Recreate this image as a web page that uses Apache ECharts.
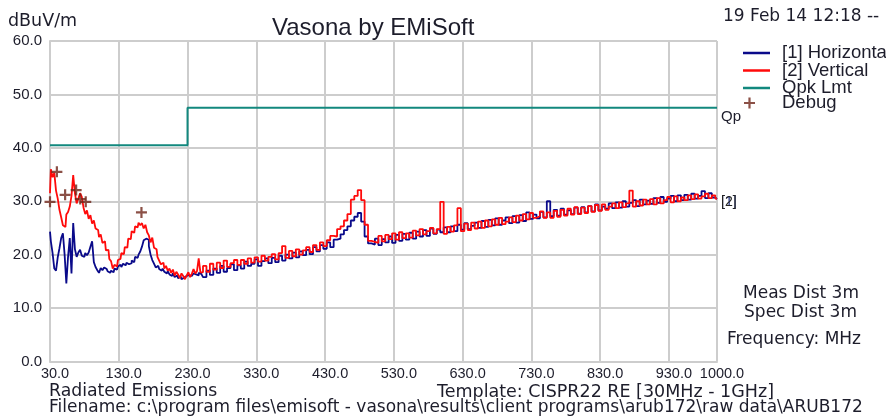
<!DOCTYPE html>
<html><head><meta charset="utf-8">
<script src="https://cdn.jsdelivr.net/npm/echarts@6/dist/echarts.min.js"></script>
<style>html,body{margin:0;padding:0;background:#fff}#c{width:886px;height:417px}</style>
</head><body><div id="c"></div>
<script>
// ---------- data ----------
const titleText = 'Vasona by EMiSoft';
const unitText = 'dBuV/m';
const dateText = '19 Feb 14 12:18 --';
const xTicks = [30, 130, 230, 330, 430, 530, 630, 730, 830, 930, 1000];
const yTicks = [0, 10, 20, 30, 40, 50, 60];

const freqLow = [30,32.5,35,37.5,40,42.5,45,47.5,50,52.5,
  55,57.5,60,62.5,65,67.5,70,72.5,75,77.5,
  80,82.5,85,87.5,90,92.5,95,97.5,100,102.5,
  105,107.5,110,112.5,115,117.5,120,122.5,125,127.5,
  130,132.5,135,137.5,140,142.5,145,147.5,150,152.5,
  155,157.5,160,162.5,165,167.5,170,172.5,175,177.5,
  180,182.5,185,187.5,190,192.5,195,197.5,200,202.5,
  205,207.5,210,212.5,215,217.5,220,222.5,225,227.5,
  230,232.5,235,237.5,240,242.5,245,247.5,250];
const freqHigh = [255,260,265,270,275,280,285,290,295,300,
  305,310,315,320,325,330,335,340,345,350,
  355,360,365,370,375,380,385,390,395,400,
  405,410,415,420,425,430,435,440,445,450,
  455,460,465,470,475,480,485,490,495,500,
  505,510,515,520,525,530,535,540,545,550,
  555,560,565,570,575,580,585,590,595,600,
  605,610,615,620,625,630,635,640,645,650,
  655,660,665,670,675,680,685,690,695,700,
  705,710,715,720,725,730,735,740,745,750,
  755,760,765,770,775,780,785,790,795,800,
  805,810,815,820,825,830,835,840,845,850,
  855,860,865,870,875,880,885,890,895,900,
  905,910,915,920,925,930,935,940,945,950,
  955,960,965,970,975,980,985,990,995,1000];

const horizLow = [24.3,22.5,20.3,17.4,17.0,19.5,21.2,23.1,24.0,20.0,
  14.6,19.6,23.1,16.5,25.9,21.0,19.6,20.4,20.9,19.8,
  19.6,20.3,19.9,20.4,21.5,22.5,18.6,17.7,17.1,16.6,
  17.5,17.1,17.6,17.3,16.9,16.6,17.0,16.7,17.4,17.2,
  17.8,18.1,17.7,18.3,18.0,18.5,18.2,18.4,18.9,18.6,
  19.6,19.4,20.0,20.6,21.5,22.7,23.0,22.8,21.6,20.0,
  19.0,18.3,17.6,17.9,17.3,17.0,17.4,16.8,16.5,16.9,
  16.3,16.0,16.5,15.8,16.1,15.6,15.9,15.4,15.7,16.0,
  15.7,16.2,16.0,15.8,16.5,16.3,16.1,16.6,16.4];
const horizHigh = [15.8,17.0,16.2,17.4,16.6,17.9,16.8,17.5,18.2,17.1,
  18.0,17.4,18.7,17.9,18.3,19.1,17.9,18.8,19.3,18.4,
  19.4,18.6,19.8,18.9,20.0,19.3,20.4,19.5,20.6,19.9,
  20.9,20.1,21.4,20.6,21.8,21.1,22.3,21.4,22.8,23.0,
  23.8,24.6,25.3,26.4,27.1,27.8,26.2,23.4,22.1,21.9,
  23.0,21.8,22.9,22.3,23.4,22.2,23.7,22.6,23.9,22.8,
  24.1,23.0,24.3,23.4,24.6,23.5,24.9,23.9,24.7,24.2,
  25.1,24.2,25.3,24.4,25.6,24.7,25.9,24.8,25.4,26.0,
  25.0,26.3,25.2,26.5,25.5,26.8,25.6,26.4,27.0,25.9,
  27.2,26.0,27.4,26.3,27.9,26.7,27.5,26.8,28.0,27.0,
  30.0,27.2,28.4,27.3,28.6,27.5,28.3,27.6,28.8,27.7,
  28.9,27.9,29.1,28.1,29.4,28.3,29.0,28.6,29.6,28.7,
  29.8,28.8,30.0,29.0,29.7,30.2,29.1,30.3,29.4,30.1,
  29.5,30.6,29.7,30.8,29.9,30.5,31.0,30.0,31.1,30.2,
  31.2,30.3,31.4,30.5,31.0,31.9,30.6,31.5,30.7,30.4];

const vertLow = [31.5,36.0,34.5,35.3,32.0,30.5,28.4,27.0,25.5,25.2,
  27.5,28.0,29.0,31.0,34.9,31.5,29.6,30.5,31.5,30.8,
  28.8,27.6,28.3,26.7,27.4,25.8,26.4,24.9,24.6,23.3,
  23.8,22.2,22.5,20.8,20.9,19.2,18.8,17.4,18.1,17.8,
  19.0,19.2,20.3,20.1,21.4,21.3,23.0,22.9,24.4,24.1,
  25.3,25.1,26.0,25.5,25.9,24.9,25.6,24.2,23.6,22.3,
  23.2,21.3,21.0,19.6,18.9,18.2,18.5,17.4,17.9,17.0,
  17.4,16.6,17.2,16.1,16.8,16.3,15.6,16.5,16.0,15.4,
  16.1,16.7,15.8,16.4,17.3,16.5,16.9,19.3,16.7];
const vertHigh = [17.9,16.8,18.3,17.2,18.5,17.5,18.9,17.7,18.4,19.0,
  18.1,19.0,18.3,19.3,18.5,19.5,18.7,19.8,18.9,19.6,
  20.1,19.1,20.3,21.6,19.4,20.7,19.7,21.0,20.0,20.8,
  21.4,20.5,21.8,20.9,22.3,21.6,22.7,23.5,23.4,24.8,
  25.3,26.4,27.6,30.3,31.0,32.1,30.2,25.6,22.6,22.4,
  22.2,23.5,22.5,23.7,22.9,24.0,22.8,24.2,23.1,24.0,
  23.2,24.5,23.6,24.8,23.8,24.4,25.0,24.0,24.8,29.9,
  23.9,25.2,24.3,25.5,28.7,24.4,25.8,24.6,26.0,24.9,
  26.2,25.0,26.4,25.3,26.6,25.6,26.9,25.7,26.2,27.0,
  26.1,27.3,26.4,27.6,26.6,27.8,26.9,27.2,28.1,26.9,
  27.9,26.9,28.2,27.1,28.4,27.3,28.6,27.5,28.9,27.6,
  28.8,27.8,29.1,28.0,29.3,28.2,29.4,28.4,29.0,29.6,
  28.7,29.8,28.9,29.6,32.0,29.0,30.0,29.2,30.3,29.4,
  30.4,29.4,30.6,29.6,30.2,30.8,29.8,30.9,30.0,30.7,
  30.2,31.1,30.4,31.3,30.5,30.9,31.4,30.6,31.1,30.5];

const limitFreq = [30, 230, 230, 1000];
const limitLevel = [40.5, 40.5, 47.5, 47.5];

const debugFreq = [30, 40, 52, 68, 74, 82, 163];
const debugLevel = [29.9, 35.5, 31.2, 32.1, 30.4, 29.9, 27.9];

const seriesNames = ['[1] Horizontal', '[2] Vertical', 'Qpk Lmt', 'Debug'];
const bottomLeft = 'Radiated Emissions';
const bottomTemplate = 'Template: CISPR22 RE [30MHz - 1GHz]';
const bottomFile = 'Filename: c:\\program files\\emisoft - vasona\\results\\client programs\\arub172\\raw data\\ARUB172 ';
const sideTexts = ['Meas Dist 3m', 'Spec Dist 3m', 'Frequency: MHz'];

// ---------- build ----------
function pairs(xs, ys) { return xs.map((x, i) => [x, ys[i]]); }
const freqAll = freqLow.concat(freqHigh);
const horizAll = horizLow.concat(horizHigh);
const vertAll = vertLow.concat(vertHigh);
if (freqAll.length !== horizAll.length || freqAll.length !== vertAll.length) console.warn('length mismatch', freqAll.length, horizAll.length, vertAll.length);

const SANS = '"Liberation Sans", Arial, sans-serif';
const WIDE = '"DejaVu Sans", sans-serif';
const TXT = '#1d1d2b';
const GRID = '#cdcdcd';
const NAVY = '#0a0a8a';
const RED = '#ff0a0a';
const TEAL = '#12887e';
const PLUS = 'path://M4,0H6V10H4Z M0,4H10V6H0Z';

function txt(x, y, text, align, size) {
  return { type: 'text', x: x, y: y, silent: true,
    style: { text: text, align: align, verticalAlign: 'middle', font: (size || 17) + 'px ' + WIDE, fill: TXT } };
}

const chart = echarts.init(document.getElementById('c'), null, { renderer: 'canvas' });
chart.setOption({
  animation: false,
  backgroundColor: '#ffffff',
  title: { text: titleText, left: 272, top: 16, padding: 0,
    textStyle: { fontFamily: SANS, fontSize: 24, fontWeight: 'normal', color: TXT } },
  legend: [
    { data: seriesNames.slice(0, 3), orient: 'vertical', left: 743, top: 43.5, padding: 0,
      itemWidth: 27, itemHeight: 2.5, icon: 'rect', itemGap: -1.5, selectedMode: false,
      textStyle: { fontFamily: SANS, fontSize: 18.5, color: TXT, padding: [0, 0, 0, 7] } },
    { data: [seriesNames[3]], orient: 'vertical', left: 744, top: 93.5, padding: 0,
      itemWidth: 11, itemHeight: 11, icon: PLUS, selectedMode: false,
      textStyle: { fontFamily: SANS, fontSize: 18.5, color: TXT, padding: [0, 0, 0, 22] } }
  ],
  grid: { left: 50, top: 41, right: 169, bottom: 55.5 },
  xAxis: {
    type: 'value', min: xTicks[0], max: xTicks[xTicks.length - 1],
    axisLine: { show: true, lineStyle: { color: GRID, width: 2 } },
    axisTick: { show: false, customValues: xTicks },
    axisLabel: { customValues: xTicks, formatter: v => Number(v).toFixed(1),
      fontFamily: SANS, fontSize: 14.5, color: TXT, margin: 5, padding: [0, 0, 0, 10] },
    splitLine: { show: true, lineStyle: { color: GRID, width: 2 } }
  },
  yAxis: {
    type: 'value', min: yTicks[0], max: yTicks[yTicks.length - 1], interval: 10,
    axisLine: { show: true, lineStyle: { color: GRID, width: 2 } },
    axisTick: { show: false },
    axisLabel: { formatter: v => Number(v).toFixed(1), fontFamily: SANS, fontSize: 15, color: TXT,
      margin: 8, padding: [0, 0, 6, 0] },
    splitLine: { show: true, lineStyle: { color: GRID, width: 2 } }
  },
  graphic: [
    txt(8, 21, unitText, 'left', 17.5),
    txt(723, 17, dateText, 'left', 17),
    txt(801, 294, sideTexts[0], 'center', 17),
    txt(800.5, 312.5, sideTexts[1], 'center', 17),
    txt(794, 340, sideTexts[2], 'center', 17),
    txt(49, 392, bottomLeft, 'left', 17.3),
    txt(437, 392, bottomTemplate, 'left', 17.5),
    txt(49, 407.5, bottomFile, 'left', 17)
  ],
  series: [
    { name: seriesNames[0], type: 'line', data: pairs(freqAll, horizAll), step: 'middle',
      symbol: 'none', color: NAVY, itemStyle: { color: NAVY }, lineStyle: { color: NAVY, width: 1.8 },
      endLabel: { show: true, formatter: '[1]', color: '#203080', fontFamily: SANS, fontSize: 14, distance: 4, offset: [0, 3] } },
    { name: seriesNames[1], type: 'line', data: pairs(freqAll, vertAll), step: 'middle',
      symbol: 'none', color: RED, itemStyle: { color: RED }, lineStyle: { color: RED, width: 1.8 },
      endLabel: { show: true, formatter: '[2]', color: '#222', fontFamily: SANS, fontSize: 14, distance: 4, offset: [0, 4] } },
    { name: seriesNames[2], type: 'line', data: pairs(limitFreq, limitLevel),
      symbol: 'none', color: TEAL, itemStyle: { color: TEAL }, lineStyle: { color: TEAL, width: 2 },
      endLabel: { show: true, formatter: 'Qp', color: TXT, fontFamily: SANS, fontSize: 15, distance: 4, offset: [0, 9] } },
    { name: seriesNames[3], type: 'scatter', data: pairs(debugFreq, debugLevel),
      symbol: PLUS, symbolSize: 11, color: '#6e2418', itemStyle: { color: '#6e2418' }, z: 5 }
  ]
});
</script></body></html>
